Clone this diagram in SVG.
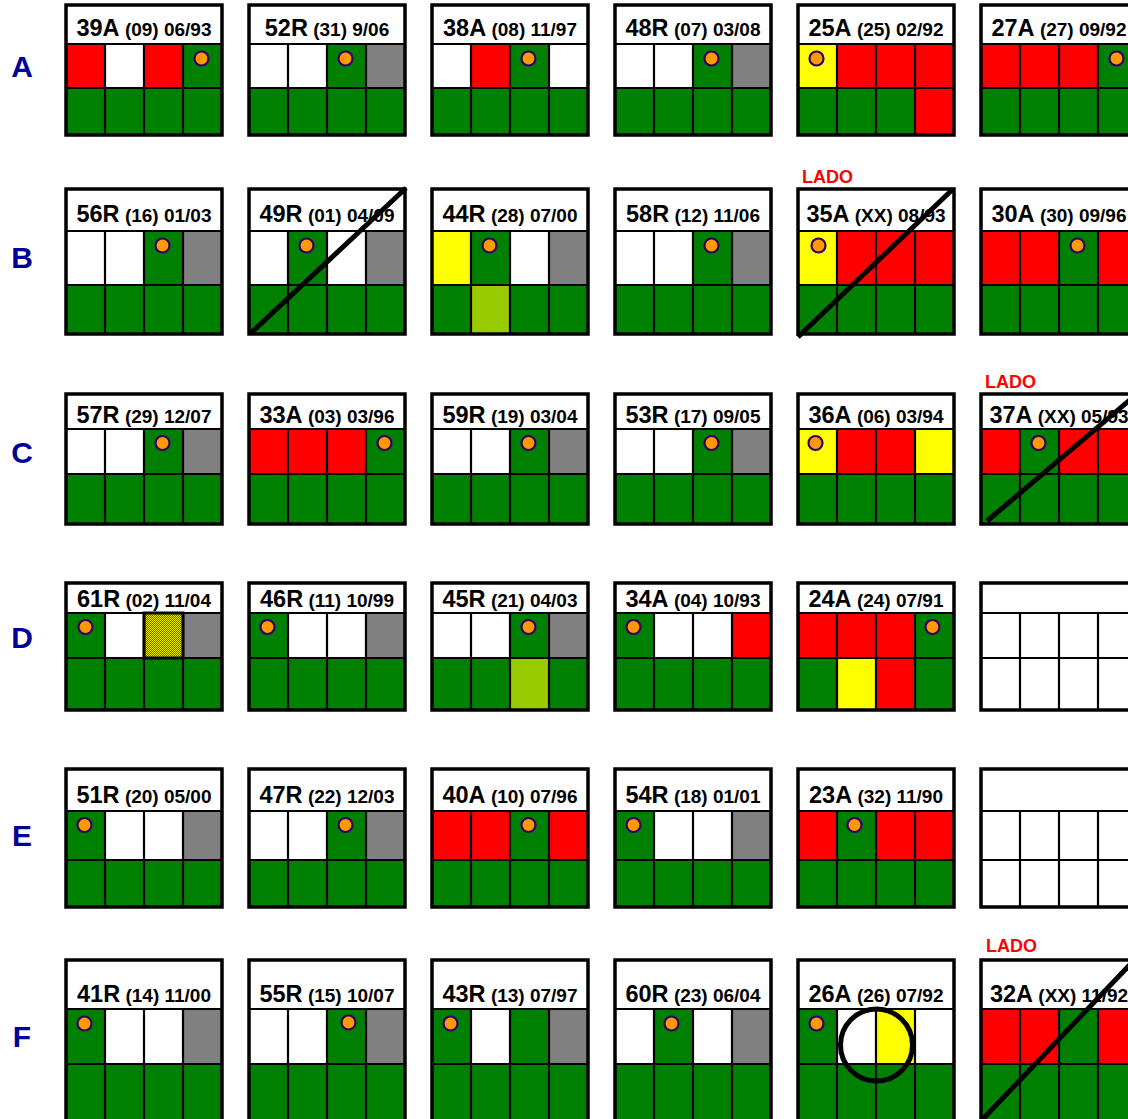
<svg xmlns="http://www.w3.org/2000/svg" xmlns:xlink="http://www.w3.org/1999/xlink" width="1128" height="1119" viewBox="0 0 1128 1119">
<style>
.w{fill:#fff}.r{fill:#f00}.g{fill:#008000}.y{fill:#ff0}.k{fill:#808080}.yg{fill:#9c0}.h{fill:url(#hatch)}
.grid{fill:none;stroke:#000;stroke-width:2.2}
.frame{fill:none;stroke:#000;stroke-width:3.5}
.dot{fill:#f90;stroke:#306;stroke-width:2.2}
.t{font-family:"Liberation Sans",Arial,sans-serif;font-weight:bold;font-size:19px;fill:#000;text-anchor:middle}
.b{font-size:23.5px}
.lab{font-family:"Liberation Sans",Arial,sans-serif;font-weight:bold;font-size:30px;fill:#009;text-anchor:middle}
.lado{font-family:"Liberation Sans",Arial,sans-serif;font-weight:bold;font-size:18px;fill:#f00}
.x{fill:none;stroke:#000;stroke-width:5}
</style>
<defs>
<pattern id="hatch" width="2" height="2" patternUnits="userSpaceOnUse"><rect width="2" height="2" fill="#008000"/><rect width="1" height="1" fill="#ff0"/><rect x="1" y="1" width="1" height="1" fill="#ff0"/></pattern>
<rect id="hA" class="w" x="0" y="5" width="156" height="39"/>
<path id="gA" class="grid" d="M0 44H156M0 88H156M39 44V135M78 44V135M117 44V135"/>
<rect id="fA" class="frame" x="0" y="5" width="156" height="130"/>
<rect id="hB" class="w" x="0" y="189" width="156" height="42"/>
<path id="gB" class="grid" d="M0 231H156M0 285H156M39 231V334M78 231V334M117 231V334"/>
<rect id="fB" class="frame" x="0" y="189" width="156" height="145"/>
<rect id="hC" class="w" x="0" y="394" width="156" height="35"/>
<path id="gC" class="grid" d="M0 429H156M0 474H156M39 429V524M78 429V524M117 429V524"/>
<rect id="fC" class="frame" x="0" y="394" width="156" height="130"/>
<rect id="hD" class="w" x="0" y="583" width="156" height="30"/>
<path id="gD" class="grid" d="M0 613H156M0 658H156M39 613V710M78 613V710M117 613V710"/>
<rect id="fD" class="frame" x="0" y="583" width="156" height="127"/>
<rect id="hE" class="w" x="0" y="769" width="156" height="42"/>
<path id="gE" class="grid" d="M0 811H156M0 860H156M39 811V907M78 811V907M117 811V907"/>
<rect id="fE" class="frame" x="0" y="769" width="156" height="138"/>
<rect id="hF" class="w" x="0" y="960" width="156" height="49"/>
<path id="gF" class="grid" d="M0 1009H156M0 1064H156M39 1009V1125M78 1009V1125M117 1009V1125"/>
<rect id="fF" class="frame" x="0" y="960" width="156" height="165"/>
</defs>
<rect width="1128" height="1119" fill="#fff"/>

<g id="row-labels">
<text class="lab" x="22" y="77">A</text>
<text class="lab" x="22" y="268">B</text>
<text class="lab" x="22" y="463">C</text>
<text class="lab" x="22" y="648">D</text>
<text class="lab" x="22" y="846">E</text>
<text class="lab" x="22" y="1047">F</text>
</g>

<!-- Row A -->
<g id="card-39A" transform="translate(66,0)">
<use href="#hA"/>
<rect class="r" x="0" y="44" width="39" height="44"/><rect class="w" x="39" y="44" width="39" height="44"/><rect class="r" x="78" y="44" width="39" height="44"/><rect class="g" x="117" y="44" width="39" height="44"/>
<rect class="g" x="0" y="88" width="156" height="47"/>
<use href="#gA"/><use href="#fA"/>
<text class="t" x="78" y="36"><tspan class="b">39A</tspan> (09) 06/93</text>
<circle class="dot" cx="135.5" cy="58.5" r="7"/>
</g>
<g id="card-52R" transform="translate(249,0)">
<use href="#hA"/>
<rect class="w" x="0" y="44" width="39" height="44"/><rect class="w" x="39" y="44" width="39" height="44"/><rect class="g" x="78" y="44" width="39" height="44"/><rect class="k" x="117" y="44" width="39" height="44"/>
<rect class="g" x="0" y="88" width="156" height="47"/>
<use href="#gA"/><use href="#fA"/>
<text class="t" x="78" y="36"><tspan class="b">52R</tspan> (31) 9/06</text>
<circle class="dot" cx="96.5" cy="58.5" r="7"/>
</g>
<g id="card-38A" transform="translate(432,0)">
<use href="#hA"/>
<rect class="w" x="0" y="44" width="39" height="44"/><rect class="r" x="39" y="44" width="39" height="44"/><rect class="g" x="78" y="44" width="39" height="44"/><rect class="w" x="117" y="44" width="39" height="44"/>
<rect class="g" x="0" y="88" width="156" height="47"/>
<use href="#gA"/><use href="#fA"/>
<text class="t" x="78" y="36"><tspan class="b">38A</tspan> (08) 11/97</text>
<circle class="dot" cx="96.5" cy="58.5" r="7"/>
</g>
<g id="card-48R" transform="translate(615,0)">
<use href="#hA"/>
<rect class="w" x="0" y="44" width="39" height="44"/><rect class="w" x="39" y="44" width="39" height="44"/><rect class="g" x="78" y="44" width="39" height="44"/><rect class="k" x="117" y="44" width="39" height="44"/>
<rect class="g" x="0" y="88" width="156" height="47"/>
<use href="#gA"/><use href="#fA"/>
<text class="t" x="78" y="36"><tspan class="b">48R</tspan> (07) 03/08</text>
<circle class="dot" cx="96.5" cy="58.5" r="7"/>
</g>
<g id="card-25A" transform="translate(798,0)">
<use href="#hA"/>
<rect class="y" x="0" y="44" width="39" height="44"/><rect class="r" x="39" y="44" width="39" height="44"/><rect class="r" x="78" y="44" width="39" height="44"/><rect class="r" x="117" y="44" width="39" height="44"/>
<rect class="g" x="0" y="88" width="156" height="47"/><rect class="r" x="117" y="88" width="39" height="47"/>
<use href="#gA"/><use href="#fA"/>
<text class="t" x="78" y="36"><tspan class="b">25A</tspan> (25) 02/92</text>
<circle class="dot" cx="18.5" cy="58.5" r="7"/>
</g>
<g id="card-27A" transform="translate(981,0)">
<use href="#hA"/>
<rect class="r" x="0" y="44" width="39" height="44"/><rect class="r" x="39" y="44" width="39" height="44"/><rect class="r" x="78" y="44" width="39" height="44"/><rect class="g" x="117" y="44" width="39" height="44"/>
<rect class="g" x="0" y="88" width="156" height="47"/>
<use href="#gA"/><use href="#fA"/>
<text class="t" x="78" y="36"><tspan class="b">27A</tspan> (27) 09/92</text>
<circle class="dot" cx="135.5" cy="58.5" r="7"/>
</g>

<!-- Row B -->
<g id="card-56R" transform="translate(66,0)">
<use href="#hB"/>
<rect class="w" x="0" y="231" width="39" height="54"/><rect class="w" x="39" y="231" width="39" height="54"/><rect class="g" x="78" y="231" width="39" height="54"/><rect class="k" x="117" y="231" width="39" height="54"/>
<rect class="g" x="0" y="285" width="156" height="49"/>
<use href="#gB"/><use href="#fB"/>
<text class="t" x="78" y="222"><tspan class="b">56R</tspan> (16) 01/03</text>
<circle class="dot" cx="96.5" cy="245.5" r="7"/>
</g>
<g id="card-49R" transform="translate(249,0)">
<use href="#hB"/>
<rect class="w" x="0" y="231" width="39" height="54"/><rect class="g" x="39" y="231" width="39" height="54"/><rect class="w" x="78" y="231" width="39" height="54"/><rect class="k" x="117" y="231" width="39" height="54"/>
<rect class="g" x="0" y="285" width="156" height="49"/>
<use href="#gB"/><use href="#fB"/>
<text class="t" x="78" y="222"><tspan class="b">49R</tspan> (01) 04/09</text>
<circle class="dot" cx="57.5" cy="245.5" r="7"/>
<line class="x" x1="2" y1="333" x2="157" y2="188"/>
</g>
<g id="card-44R" transform="translate(432,0)">
<use href="#hB"/>
<rect class="y" x="0" y="231" width="39" height="54"/><rect class="g" x="39" y="231" width="39" height="54"/><rect class="w" x="78" y="231" width="39" height="54"/><rect class="k" x="117" y="231" width="39" height="54"/>
<rect class="g" x="0" y="285" width="156" height="49"/><rect class="yg" x="39" y="285" width="39" height="49"/>
<use href="#gB"/><use href="#fB"/>
<text class="t" x="78" y="222"><tspan class="b">44R</tspan> (28) 07/00</text>
<circle class="dot" cx="57.5" cy="245.5" r="7"/>
</g>
<g id="card-58R" transform="translate(615,0)">
<use href="#hB"/>
<rect class="w" x="0" y="231" width="39" height="54"/><rect class="w" x="39" y="231" width="39" height="54"/><rect class="g" x="78" y="231" width="39" height="54"/><rect class="k" x="117" y="231" width="39" height="54"/>
<rect class="g" x="0" y="285" width="156" height="49"/>
<use href="#gB"/><use href="#fB"/>
<text class="t" x="78" y="222"><tspan class="b">58R</tspan> (12) 11/06</text>
<circle class="dot" cx="96.5" cy="245.5" r="7"/>
</g>
<g id="card-35A" transform="translate(798,0)">
<use href="#hB"/>
<rect class="y" x="0" y="231" width="39" height="54"/><rect class="r" x="39" y="231" width="39" height="54"/><rect class="r" x="78" y="231" width="39" height="54"/><rect class="r" x="117" y="231" width="39" height="54"/>
<rect class="g" x="0" y="285" width="156" height="49"/>
<use href="#gB"/><use href="#fB"/>
<text class="t" x="78" y="222"><tspan class="b">35A</tspan> (XX) 08/93</text>
<circle class="dot" cx="20.5" cy="245.5" r="7"/>
<line class="x" x1="0" y1="337" x2="155" y2="189"/>
<text class="lado" x="4" y="183">LADO</text>
</g>
<g id="card-30A" transform="translate(981,0)">
<use href="#hB"/>
<rect class="r" x="0" y="231" width="39" height="54"/><rect class="r" x="39" y="231" width="39" height="54"/><rect class="g" x="78" y="231" width="39" height="54"/><rect class="r" x="117" y="231" width="39" height="54"/>
<rect class="g" x="0" y="285" width="156" height="49"/>
<use href="#gB"/><use href="#fB"/>
<text class="t" x="78" y="222"><tspan class="b">30A</tspan> (30) 09/96</text>
<circle class="dot" cx="96.5" cy="245.5" r="7"/>
</g>

<!-- Row C -->
<g id="card-57R" transform="translate(66,0)">
<use href="#hC"/>
<rect class="w" x="0" y="429" width="39" height="45"/><rect class="w" x="39" y="429" width="39" height="45"/><rect class="g" x="78" y="429" width="39" height="45"/><rect class="k" x="117" y="429" width="39" height="45"/>
<rect class="g" x="0" y="474" width="156" height="50"/>
<use href="#gC"/><use href="#fC"/>
<text class="t" x="78" y="423"><tspan class="b">57R</tspan> (29) 12/07</text>
<circle class="dot" cx="96.5" cy="443" r="7"/>
</g>
<g id="card-33A" transform="translate(249,0)">
<use href="#hC"/>
<rect class="r" x="0" y="429" width="39" height="45"/><rect class="r" x="39" y="429" width="39" height="45"/><rect class="r" x="78" y="429" width="39" height="45"/><rect class="g" x="117" y="429" width="39" height="45"/>
<rect class="g" x="0" y="474" width="156" height="50"/>
<use href="#gC"/><use href="#fC"/>
<text class="t" x="78" y="423"><tspan class="b">33A</tspan> (03) 03/96</text>
<circle class="dot" cx="135.5" cy="443" r="7"/>
</g>
<g id="card-59R" transform="translate(432,0)">
<use href="#hC"/>
<rect class="w" x="0" y="429" width="39" height="45"/><rect class="w" x="39" y="429" width="39" height="45"/><rect class="g" x="78" y="429" width="39" height="45"/><rect class="k" x="117" y="429" width="39" height="45"/>
<rect class="g" x="0" y="474" width="156" height="50"/>
<use href="#gC"/><use href="#fC"/>
<text class="t" x="78" y="423"><tspan class="b">59R</tspan> (19) 03/04</text>
<circle class="dot" cx="96.5" cy="443" r="7"/>
</g>
<g id="card-53R" transform="translate(615,0)">
<use href="#hC"/>
<rect class="w" x="0" y="429" width="39" height="45"/><rect class="w" x="39" y="429" width="39" height="45"/><rect class="g" x="78" y="429" width="39" height="45"/><rect class="k" x="117" y="429" width="39" height="45"/>
<rect class="g" x="0" y="474" width="156" height="50"/>
<use href="#gC"/><use href="#fC"/>
<text class="t" x="78" y="423"><tspan class="b">53R</tspan> (17) 09/05</text>
<circle class="dot" cx="96.5" cy="443" r="7"/>
</g>
<g id="card-36A" transform="translate(798,0)">
<use href="#hC"/>
<rect class="y" x="0" y="429" width="39" height="45"/><rect class="r" x="39" y="429" width="39" height="45"/><rect class="r" x="78" y="429" width="39" height="45"/><rect class="y" x="117" y="429" width="39" height="45"/>
<rect class="g" x="0" y="474" width="156" height="50"/>
<use href="#gC"/><use href="#fC"/>
<text class="t" x="78" y="423"><tspan class="b">36A</tspan> (06) 03/94</text>
<circle class="dot" cx="17.5" cy="443" r="7"/>
</g>
<g id="card-37A" transform="translate(981,0)">
<use href="#hC"/>
<rect class="r" x="0" y="429" width="39" height="45"/><rect class="g" x="39" y="429" width="39" height="45"/><rect class="r" x="78" y="429" width="39" height="45"/><rect class="r" x="117" y="429" width="39" height="45"/>
<rect class="g" x="0" y="474" width="156" height="50"/>
<use href="#gC"/><use href="#fC"/>
<text class="t" x="78" y="423"><tspan class="b">37A</tspan> (XX) 05/93</text>
<circle class="dot" cx="57.5" cy="443" r="7"/>
<line class="x" x1="6" y1="521" x2="157" y2="393"/>
<text class="lado" x="4" y="388">LADO</text>
</g>

<!-- Row D -->
<g id="card-61R" transform="translate(66,0)">
<use href="#hD"/>
<rect class="g" x="0" y="613" width="39" height="45"/><rect class="w" x="39" y="613" width="39" height="45"/><rect class="h" x="78" y="613" width="39" height="45"/><rect class="k" x="117" y="613" width="39" height="45"/>
<rect class="g" x="0" y="658" width="156" height="52"/>
<use href="#gD"/>
<rect x="78" y="613" width="39" height="45" fill="none" stroke="#000" stroke-width="3"/>
<use href="#fD"/>
<text class="t" x="78" y="607"><tspan class="b">61R</tspan> (02) 11/04</text>
<circle class="dot" cx="19.5" cy="627" r="7"/>
</g>
<g id="card-46R" transform="translate(249,0)">
<use href="#hD"/>
<rect class="g" x="0" y="613" width="39" height="45"/><rect class="w" x="39" y="613" width="39" height="45"/><rect class="w" x="78" y="613" width="39" height="45"/><rect class="k" x="117" y="613" width="39" height="45"/>
<rect class="g" x="0" y="658" width="156" height="52"/>
<use href="#gD"/><use href="#fD"/>
<text class="t" x="78" y="607"><tspan class="b">46R</tspan> (11) 10/99</text>
<circle class="dot" cx="18.5" cy="627" r="7"/>
</g>
<g id="card-45R" transform="translate(432,0)">
<use href="#hD"/>
<rect class="w" x="0" y="613" width="39" height="45"/><rect class="w" x="39" y="613" width="39" height="45"/><rect class="g" x="78" y="613" width="39" height="45"/><rect class="k" x="117" y="613" width="39" height="45"/>
<rect class="g" x="0" y="658" width="156" height="52"/><rect class="yg" x="78" y="658" width="39" height="52"/>
<use href="#gD"/><use href="#fD"/>
<text class="t" x="78" y="607"><tspan class="b">45R</tspan> (21) 04/03</text>
<circle class="dot" cx="96.5" cy="627" r="7"/>
</g>
<g id="card-34A" transform="translate(615,0)">
<use href="#hD"/>
<rect class="g" x="0" y="613" width="39" height="45"/><rect class="w" x="39" y="613" width="39" height="45"/><rect class="w" x="78" y="613" width="39" height="45"/><rect class="r" x="117" y="613" width="39" height="45"/>
<rect class="g" x="0" y="658" width="156" height="52"/>
<use href="#gD"/><use href="#fD"/>
<text class="t" x="78" y="607"><tspan class="b">34A</tspan> (04) 10/93</text>
<circle class="dot" cx="18.5" cy="627" r="7"/>
</g>
<g id="card-24A" transform="translate(798,0)">
<use href="#hD"/>
<rect class="r" x="0" y="613" width="39" height="45"/><rect class="r" x="39" y="613" width="39" height="45"/><rect class="r" x="78" y="613" width="39" height="45"/><rect class="g" x="117" y="613" width="39" height="45"/>
<rect class="g" x="0" y="658" width="156" height="52"/><rect class="y" x="39" y="658" width="39" height="52"/><rect class="r" x="78" y="658" width="39" height="52"/>
<use href="#gD"/><use href="#fD"/>
<text class="t" x="78" y="607"><tspan class="b">24A</tspan> (24) 07/91</text>
<circle class="dot" cx="134.5" cy="627" r="7"/>
</g>
<g id="card-empty-D" transform="translate(981,0)">
<use href="#hD"/>
<rect class="w" x="0" y="613" width="156" height="97"/>
<use href="#gD"/><use href="#fD"/>
</g>

<!-- Row E -->
<g id="card-51R" transform="translate(66,0)">
<use href="#hE"/>
<rect class="g" x="0" y="811" width="39" height="49"/><rect class="w" x="39" y="811" width="39" height="49"/><rect class="w" x="78" y="811" width="39" height="49"/><rect class="k" x="117" y="811" width="39" height="49"/>
<rect class="g" x="0" y="860" width="156" height="47"/>
<use href="#gE"/><use href="#fE"/>
<text class="t" x="78" y="803"><tspan class="b">51R</tspan> (20) 05/00</text>
<circle class="dot" cx="18.5" cy="825" r="7"/>
</g>
<g id="card-47R" transform="translate(249,0)">
<use href="#hE"/>
<rect class="w" x="0" y="811" width="39" height="49"/><rect class="w" x="39" y="811" width="39" height="49"/><rect class="g" x="78" y="811" width="39" height="49"/><rect class="k" x="117" y="811" width="39" height="49"/>
<rect class="g" x="0" y="860" width="156" height="47"/>
<use href="#gE"/><use href="#fE"/>
<text class="t" x="78" y="803"><tspan class="b">47R</tspan> (22) 12/03</text>
<circle class="dot" cx="96.5" cy="825" r="7"/>
</g>
<g id="card-40A" transform="translate(432,0)">
<use href="#hE"/>
<rect class="r" x="0" y="811" width="39" height="49"/><rect class="r" x="39" y="811" width="39" height="49"/><rect class="g" x="78" y="811" width="39" height="49"/><rect class="r" x="117" y="811" width="39" height="49"/>
<rect class="g" x="0" y="860" width="156" height="47"/>
<use href="#gE"/><use href="#fE"/>
<text class="t" x="78" y="803"><tspan class="b">40A</tspan> (10) 07/96</text>
<circle class="dot" cx="96.5" cy="825" r="7"/>
</g>
<g id="card-54R" transform="translate(615,0)">
<use href="#hE"/>
<rect class="g" x="0" y="811" width="39" height="49"/><rect class="w" x="39" y="811" width="39" height="49"/><rect class="w" x="78" y="811" width="39" height="49"/><rect class="k" x="117" y="811" width="39" height="49"/>
<rect class="g" x="0" y="860" width="156" height="47"/>
<use href="#gE"/><use href="#fE"/>
<text class="t" x="78" y="803"><tspan class="b">54R</tspan> (18) 01/01</text>
<circle class="dot" cx="18.5" cy="825" r="7"/>
</g>
<g id="card-23A" transform="translate(798,0)">
<use href="#hE"/>
<rect class="r" x="0" y="811" width="39" height="49"/><rect class="g" x="39" y="811" width="39" height="49"/><rect class="r" x="78" y="811" width="39" height="49"/><rect class="r" x="117" y="811" width="39" height="49"/>
<rect class="g" x="0" y="860" width="156" height="47"/>
<use href="#gE"/><use href="#fE"/>
<text class="t" x="78" y="803"><tspan class="b">23A</tspan> (32) 11/90</text>
<circle class="dot" cx="56.5" cy="825" r="7"/>
</g>
<g id="card-empty-E" transform="translate(981,0)">
<use href="#hE"/>
<rect class="w" x="0" y="811" width="156" height="96"/>
<use href="#gE"/><use href="#fE"/>
</g>

<!-- Row F -->
<g id="card-41R" transform="translate(66,0)">
<use href="#hF"/>
<rect class="g" x="0" y="1009" width="39" height="55"/><rect class="w" x="39" y="1009" width="39" height="55"/><rect class="w" x="78" y="1009" width="39" height="55"/><rect class="k" x="117" y="1009" width="39" height="55"/>
<rect class="g" x="0" y="1064" width="156" height="61"/>
<use href="#gF"/><use href="#fF"/>
<text class="t" x="78" y="1002"><tspan class="b">41R</tspan> (14) 11/00</text>
<circle class="dot" cx="18.5" cy="1023.5" r="7"/>
</g>
<g id="card-55R" transform="translate(249,0)">
<use href="#hF"/>
<rect class="w" x="0" y="1009" width="39" height="55"/><rect class="w" x="39" y="1009" width="39" height="55"/><rect class="g" x="78" y="1009" width="39" height="55"/><rect class="k" x="117" y="1009" width="39" height="55"/>
<rect class="g" x="0" y="1064" width="156" height="61"/>
<use href="#gF"/><use href="#fF"/>
<text class="t" x="78" y="1002"><tspan class="b">55R</tspan> (15) 10/07</text>
<circle class="dot" cx="99.5" cy="1022.5" r="7"/>
</g>
<g id="card-43R" transform="translate(432,0)">
<use href="#hF"/>
<rect class="g" x="0" y="1009" width="39" height="55"/><rect class="w" x="39" y="1009" width="39" height="55"/><rect class="g" x="78" y="1009" width="39" height="55"/><rect class="k" x="117" y="1009" width="39" height="55"/>
<rect class="g" x="0" y="1064" width="156" height="61"/>
<use href="#gF"/><use href="#fF"/>
<text class="t" x="78" y="1002"><tspan class="b">43R</tspan> (13) 07/97</text>
<circle class="dot" cx="18.5" cy="1023.5" r="7"/>
</g>
<g id="card-60R" transform="translate(615,0)">
<use href="#hF"/>
<rect class="w" x="0" y="1009" width="39" height="55"/><rect class="g" x="39" y="1009" width="39" height="55"/><rect class="w" x="78" y="1009" width="39" height="55"/><rect class="k" x="117" y="1009" width="39" height="55"/>
<rect class="g" x="0" y="1064" width="156" height="61"/>
<use href="#gF"/><use href="#fF"/>
<text class="t" x="78" y="1002"><tspan class="b">60R</tspan> (23) 06/04</text>
<circle class="dot" cx="56.5" cy="1023.5" r="7"/>
</g>
<g id="card-26A" transform="translate(798,0)">
<use href="#hF"/>
<rect class="g" x="0" y="1009" width="39" height="55"/><rect class="w" x="39" y="1009" width="39" height="55"/><rect class="y" x="78" y="1009" width="39" height="55"/><rect class="w" x="117" y="1009" width="39" height="55"/>
<rect class="g" x="0" y="1064" width="156" height="61"/>
<use href="#gF"/><use href="#fF"/>
<text class="t" x="78" y="1002"><tspan class="b">26A</tspan> (26) 07/92</text>
<circle class="dot" cx="18.5" cy="1023.5" r="7"/>
<circle class="x" cx="78.5" cy="1045" r="36"/>
</g>
<g id="card-32A" transform="translate(981,0)">
<use href="#hF"/>
<rect class="r" x="0" y="1009" width="39" height="55"/><rect class="r" x="39" y="1009" width="39" height="55"/><rect class="g" x="78" y="1009" width="39" height="55"/><rect class="r" x="117" y="1009" width="39" height="55"/>
<rect class="g" x="0" y="1064" width="156" height="61"/>
<use href="#gF"/><use href="#fF"/>
<text class="t" x="78" y="1002"><tspan class="b">32A</tspan> (XX) 11/92</text>
<line class="x" x1="1" y1="1120" x2="157" y2="956"/>
<text class="lado" x="5" y="952">LADO</text>
</g>
</svg>
